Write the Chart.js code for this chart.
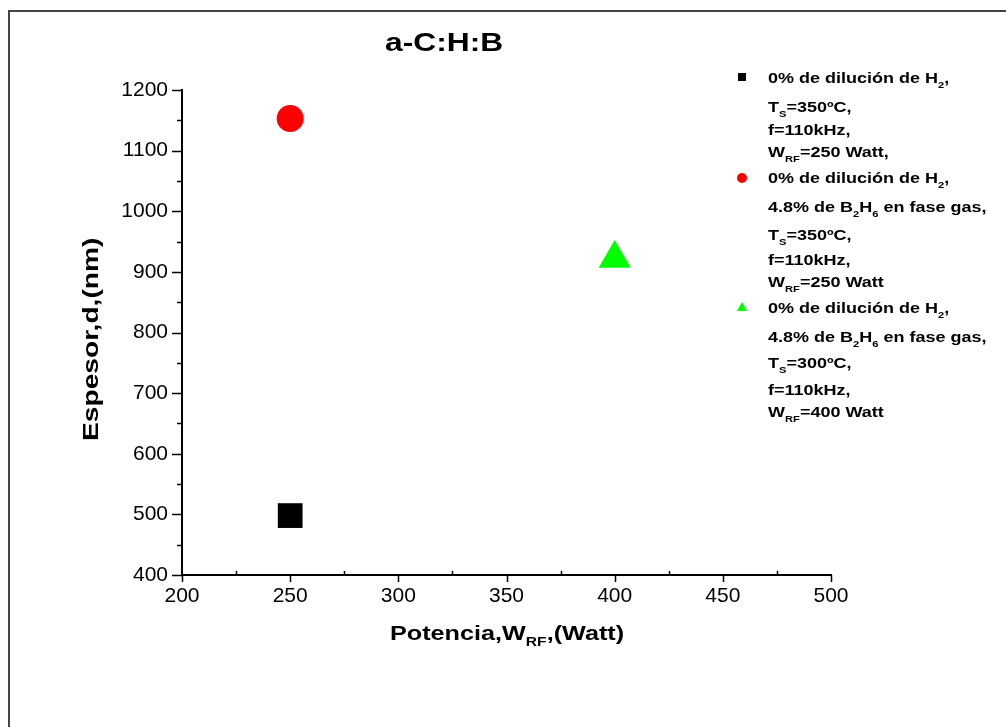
<!DOCTYPE html>
<html>
<head>
<meta charset="utf-8">
<script src="https://cdn.jsdelivr.net/npm/chart.js@4.4.0/dist/chart.umd.min.js"></script>
<style>
  html, body { margin: 0; padding: 0; background: #fff; }
  #wrap { position: relative; width: 1006px; height: 727px; overflow: hidden; font-family: "Liberation Sans", Arial, sans-serif; }
  #frame { position: absolute; left: 8px; top: 10px; width: 1010px; height: 730px; border-left: 2px solid #444; border-top: 2px solid #444; }
  #chart { position: absolute; left: 0; top: 0; }
  .txt { position: absolute; font-weight: bold; color: #000; white-space: nowrap; }
  .txt sub { font-size: 0.62em; vertical-align: -0.45em; line-height: 0; }
  #title { left: 385px; top: 28px; font-size: 25px; transform-origin: left top; transform: scaleX(1.27); }
  #xTitle { left: 390px; top: 621px; font-size: 21px; transform-origin: left top; transform: scaleX(1.2); }
  #yTitle { left: 78px; top: 441px; font-size: 22px; transform-origin: left top; transform: rotate(-90deg) scaleX(1.28); }
  .leg { position: absolute; left: 768px; font-size: 15px; font-weight: bold; white-space: nowrap; transform-origin: left center; transform: scaleX(1.2); }
  .leg sub { font-size: 0.62em; vertical-align: -0.55em; line-height: 0; }
  .mk { position: absolute; }
</style>
</head>
<body>
<div id="wrap">
  <div id="frame"></div>
  <canvas id="chart" width="1006" height="727"></canvas>
  <div class="txt" id="title">a-C:H:B</div>
  <div class="txt" id="xTitle">Potencia,W<sub>RF</sub>,(Watt)</div>
  <div class="txt" id="yTitle">Espesor,d,(nm)</div>
  <div id="legend"></div>
</div>
<script>
// === Data ===
const seriesNames = ['Black square', 'Red circle', 'Green triangle'];
const powerW = [250, 250, 400];          // Potencia, W_RF (Watt)
const thicknessNm = [498, 1153, 922];    // Espesor, d (nm)
const seriesColors = ['#000000', '#ff0000', '#00ff00'];
const seriesShapes = ['rect', 'circle', 'triangle'];
const seriesRadius = [17.5, 13.5, 18.5];
const xTicks = [200, 250, 300, 350, 400, 450, 500];
const yTicks = [400, 500, 600, 700, 800, 900, 1000, 1100, 1200];

// legend text lines (html allowed for subscripts)
const legendLines = [
  ['0% de dilución de H<sub>2</sub>,', 'T<sub>S</sub>=350ºC,', 'f=110kHz,', 'W<sub>RF</sub>=250 Watt,'],
  ['0% de dilución de H<sub>2</sub>,', '4.8% de B<sub>2</sub>H<sub>6</sub> en fase gas,', 'T<sub>S</sub>=350ºC,', 'f=110kHz,', 'W<sub>RF</sub>=250 Watt'],
  ['0% de dilución de H<sub>2</sub>,', '4.8% de B<sub>2</sub>H<sub>6</sub> en fase gas,', 'T<sub>S</sub>=300ºC,', 'f=110kHz,', 'W<sub>RF</sub>=400 Watt']
];
const legendRowY = [[78, 107, 130, 152], [178, 207, 235, 260, 282], [308, 337, 363, 390, 412]];

// === Legend (HTML, so subscripts work) ===
const legendEl = document.getElementById('legend');
legendLines.forEach((lines, i) => {
  lines.forEach((l, j) => {
    const d = document.createElement('div');
    d.className = 'leg';
    d.innerHTML = l;
    d.style.top = (legendRowY[i][j] - 9) + 'px';
    legendEl.appendChild(d);
  });
  const m = document.createElement('div');
  m.className = 'mk';
  const y = legendRowY[i][0];
  if (seriesShapes[i] === 'rect') {
    m.style.cssText += `left:738px;top:${y - 5}px;width:8px;height:8px;background:${seriesColors[i]};`;
  } else if (seriesShapes[i] === 'circle') {
    m.style.cssText += `left:737px;top:${y - 5}px;width:10px;height:10px;border-radius:50%;background:${seriesColors[i]};`;
  } else {
    m.style.cssText += `left:737px;top:${y - 6}px;width:0;height:0;border-left:5px solid transparent;border-right:5px solid transparent;border-bottom:9px solid ${seriesColors[i]};`;
  }
  legendEl.appendChild(m);
});

// === Tick marks: majors out, minors shorter ===
const tickMarks = {
  id: 'tickMarks',
  afterDraw(chart) {
    const ctx = chart.ctx;
    const { x, y } = chart.scales;
    ctx.save();
    ctx.strokeStyle = '#000';
    ctx.lineWidth = 1.5;
    ctx.beginPath();
    x.ticks.forEach(t => {
      const px = Math.round(x.getPixelForValue(t.value)) + 0.5;
      const major = xTicks.includes(t.value);
      if (major) { ctx.moveTo(px, x.top); ctx.lineTo(px, x.top + 7); }
      else { ctx.moveTo(px, x.top); ctx.lineTo(px, x.top - 4); }
    });
    y.ticks.forEach(t => {
      const py = Math.round(y.getPixelForValue(t.value)) + 0.5;
      const major = yTicks.includes(t.value);
      ctx.moveTo(y.right, py);
      ctx.lineTo(y.right - (major ? 10 : 5), py);
    });
    ctx.stroke();
    ctx.restore();
  }
};

const tickFont = { family: '"Liberation Sans", Arial, sans-serif', size: 21 };

new Chart(document.getElementById('chart'), {
  type: 'scatter',
  data: {
    datasets: seriesNames.map((name, i) => ({
      label: name,
      data: [{ x: powerW[i], y: thicknessNm[i] }],
      pointStyle: seriesShapes[i],
      pointRadius: seriesRadius[i],
      pointHoverRadius: seriesRadius[i],
      backgroundColor: seriesColors[i],
      borderColor: seriesColors[i],
      borderWidth: 0,
      clip: false
    }))
  },
  options: {
    responsive: false,
    animation: false,
    events: [],
    layout: { padding: { top: 90, right: 175, left: 0, bottom: 0 } },
    plugins: { legend: { display: false }, tooltip: { enabled: false } },
    scales: {
      x: {
        type: 'linear', min: 200, max: 500,
        afterFit: s => { s.height = 152; },
        grid: { drawOnChartArea: false, drawTicks: false },
        border: { display: true, color: '#000', width: 2 },
        ticks: {
          stepSize: 25, padding: 9, color: '#000', font: tickFont, maxRotation: 0, autoSkip: false,
          callback: v => xTicks.includes(v) ? String(v) : ''
        }
      },
      y: {
        type: 'linear', min: 400, max: 1200,
        afterFit: s => { s.width = 182; },
        grid: { drawOnChartArea: false, drawTicks: false },
        border: { display: true, color: '#000', width: 2 },
        ticks: {
          stepSize: 50, padding: 14, color: '#000', font: tickFont, autoSkip: false,
          callback: v => yTicks.includes(v) ? String(v) : ''
        }
      }
    }
  },
  plugins: [tickMarks]
});
</script>
</body>
</html>
